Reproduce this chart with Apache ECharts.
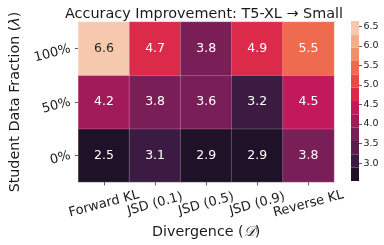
<!DOCTYPE html>
<html><head><meta charset="utf-8">
<script src="https://cdn.jsdelivr.net/npm/echarts@6/dist/echarts.min.js"></script>
<style>html,body{margin:0;padding:0;background:#fff}#c{width:384px;height:245px}</style>
</head><body><div id="c"></div>
<script>
// ---- data ----
const divergences = ['Forward KL', 'JSD (0.1)', 'JSD (0.5)', 'JSD (0.9)', 'Reverse KL'];
const fractions = ['0%', '50%', '100%'];            // bottom -> top
const values0   = [2.54, 3.10, 2.86, 2.86, 3.80];   // 0%
const values50  = [4.20, 3.80, 3.60, 3.20, 4.50];   // 50%
const values100 = [6.64, 4.70, 3.80, 4.90, 5.50];   // 100%
const colorbarTicks = [3.0, 3.5, 4.0, 4.5, 5.0, 5.5, 6.0, 6.5];

// ---- style ----
const FONT = 'DejaVu Sans';
const TXT = '#1a1a1a';
const PALETTE = ['#1f1127','#3b1b41','#5a1e4e','#7a1e58','#a11b5b','#c2195a',
                 '#db2a4a','#e84a45','#ef6b4f','#f48e69','#f5ae89','#f6c9ae'];

const rows = [values0, values50, values100];
const all = rows.flat();
const VMIN = Math.min(...all), VMAX = Math.max(...all);
const N = PALETTE.length, W = (VMAX - VMIN) / N;
const edges = PALETTE.map((_, k) => VMIN + k * W).concat([VMAX]);

function binOf(v){ return Math.min(N - 1, Math.max(0, Math.floor((v - VMIN) / W + 1e-9))); }
function lum(hex){
  const c = [1,3,5].map(i => parseInt(hex.substr(i,2),16)/255)
    .map(x => x <= 0.03928 ? x/12.92 : Math.pow((x+0.055)/1.055, 2.4));
  return 0.2126*c[0] + 0.7152*c[1] + 0.0722*c[2];
}

const heatData = [];
rows.forEach((r, yi) => r.forEach((v, xi) => {
  const dark = lum(PALETTE[binOf(v)]) > 0.408;
  heatData.push({ value: [xi, yi, v], label: { color: dark ? '#262626' : '#ffffff' } });
}));

const pieces = PALETTE.map((col, k) => k < N - 1
  ? { gte: edges[k], lt: edges[k+1], color: col }
  : { gte: edges[k], lte: edges[k+1] + 1e-9, color: col });

const cbSeries = [{
  type: 'bar', xAxisIndex: 1, yAxisIndex: 1, stack: 'cb', data: [VMIN],
  itemStyle: { color: 'rgba(0,0,0,0)' }, barWidth: '100%', silent: true
}].concat(PALETTE.map(col => ({
  type: 'bar', xAxisIndex: 1, yAxisIndex: 1, stack: 'cb', data: [W],
  itemStyle: { color: col, borderWidth: 0 }, barWidth: '100%', silent: true
})));

const chart = echarts.init(document.getElementById('c'), null, { renderer: 'canvas' });
chart.setOption({
  animation: false,
  textStyle: { fontFamily: FONT },
  title: {
    text: 'Accuracy Improvement: T5-XL → Small', left: 199, top: 2, textAlign: 'center',
    textStyle: { fontFamily: FONT, fontSize: 14.4, fontWeight: 'normal', color: TXT }
  },
  grid: [
    { left: 73, right: 50, top: 22, bottom: 63 },
    { left: 351, width: 8, top: 21, bottom: 64 }
  ],
  xAxis: [{
    type: 'category', data: divergences, gridIndex: 0,
    axisLine: { show: false },
    axisTick: { show: true, alignWithLabel: true, length: 3.5, lineStyle: { color: '#333', width: 0.8 } },
    axisLabel: { rotate: 15, align: 'center', verticalAlign: 'middle', margin: 22,
      fontSize: 13, color: TXT, fontFamily: FONT, interval: 0 },
    splitLine: { show: false },
    name: 'Divergence ({i|𝒟})', nameLocation: 'middle', nameGap: 41,
    nameTextStyle: { fontSize: 14.3, color: TXT, fontFamily: FONT,
      rich: { i: { fontSize: 14.3, color: TXT, fontFamily: FONT, fontStyle: 'italic' } } }
  }, {
    type: 'category', data: ['cb'], gridIndex: 1, show: false
  }],
  yAxis: [{
    type: 'category', data: fractions, gridIndex: 0,
    axisLine: { show: false },
    axisTick: { show: true, alignWithLabel: true, length: 3.5, lineStyle: { color: '#333', width: 0.8 } },
    axisLabel: { rotate: 15, margin: 8, fontSize: 13, color: TXT, fontFamily: FONT },
    splitLine: { show: false },
    name: 'Student Data Fraction ({i|λ})', nameLocation: 'middle', nameGap: 48, nameRotate: 90,
    nameTextStyle: { fontSize: 14.3, color: TXT, fontFamily: FONT,
      rich: { i: { fontSize: 14.3, color: TXT, fontFamily: FONT, fontStyle: 'italic' } } }
  }, {
    type: 'value', gridIndex: 1, position: 'right', min: VMIN, max: VMAX,
    axisLine: { show: false },
    splitLine: { show: false },
    axisTick: { show: true, customValues: colorbarTicks, length: 3, lineStyle: { color: '#333', width: 0.8 } },
    axisLabel: { customValues: colorbarTicks, margin: 4.5, fontSize: 9.5, color: TXT, fontFamily: FONT,
      formatter: v => Number(v).toFixed(1) }
  }],
  visualMap: {
    type: 'piecewise', show: false, seriesIndex: 0, dimension: 2, pieces: pieces
  },
  series: [{
    type: 'heatmap', xAxisIndex: 0, yAxisIndex: 0, data: heatData,
    itemStyle: { borderColor: 'rgba(255,255,255,0.35)', borderWidth: 0.6 },
    label: { show: true, fontSize: 12.5, fontFamily: FONT,
      formatter: p => p.value[2].toFixed(1) },
    emphasis: { disabled: true }
  }].concat(cbSeries)
});
</script></body></html>
